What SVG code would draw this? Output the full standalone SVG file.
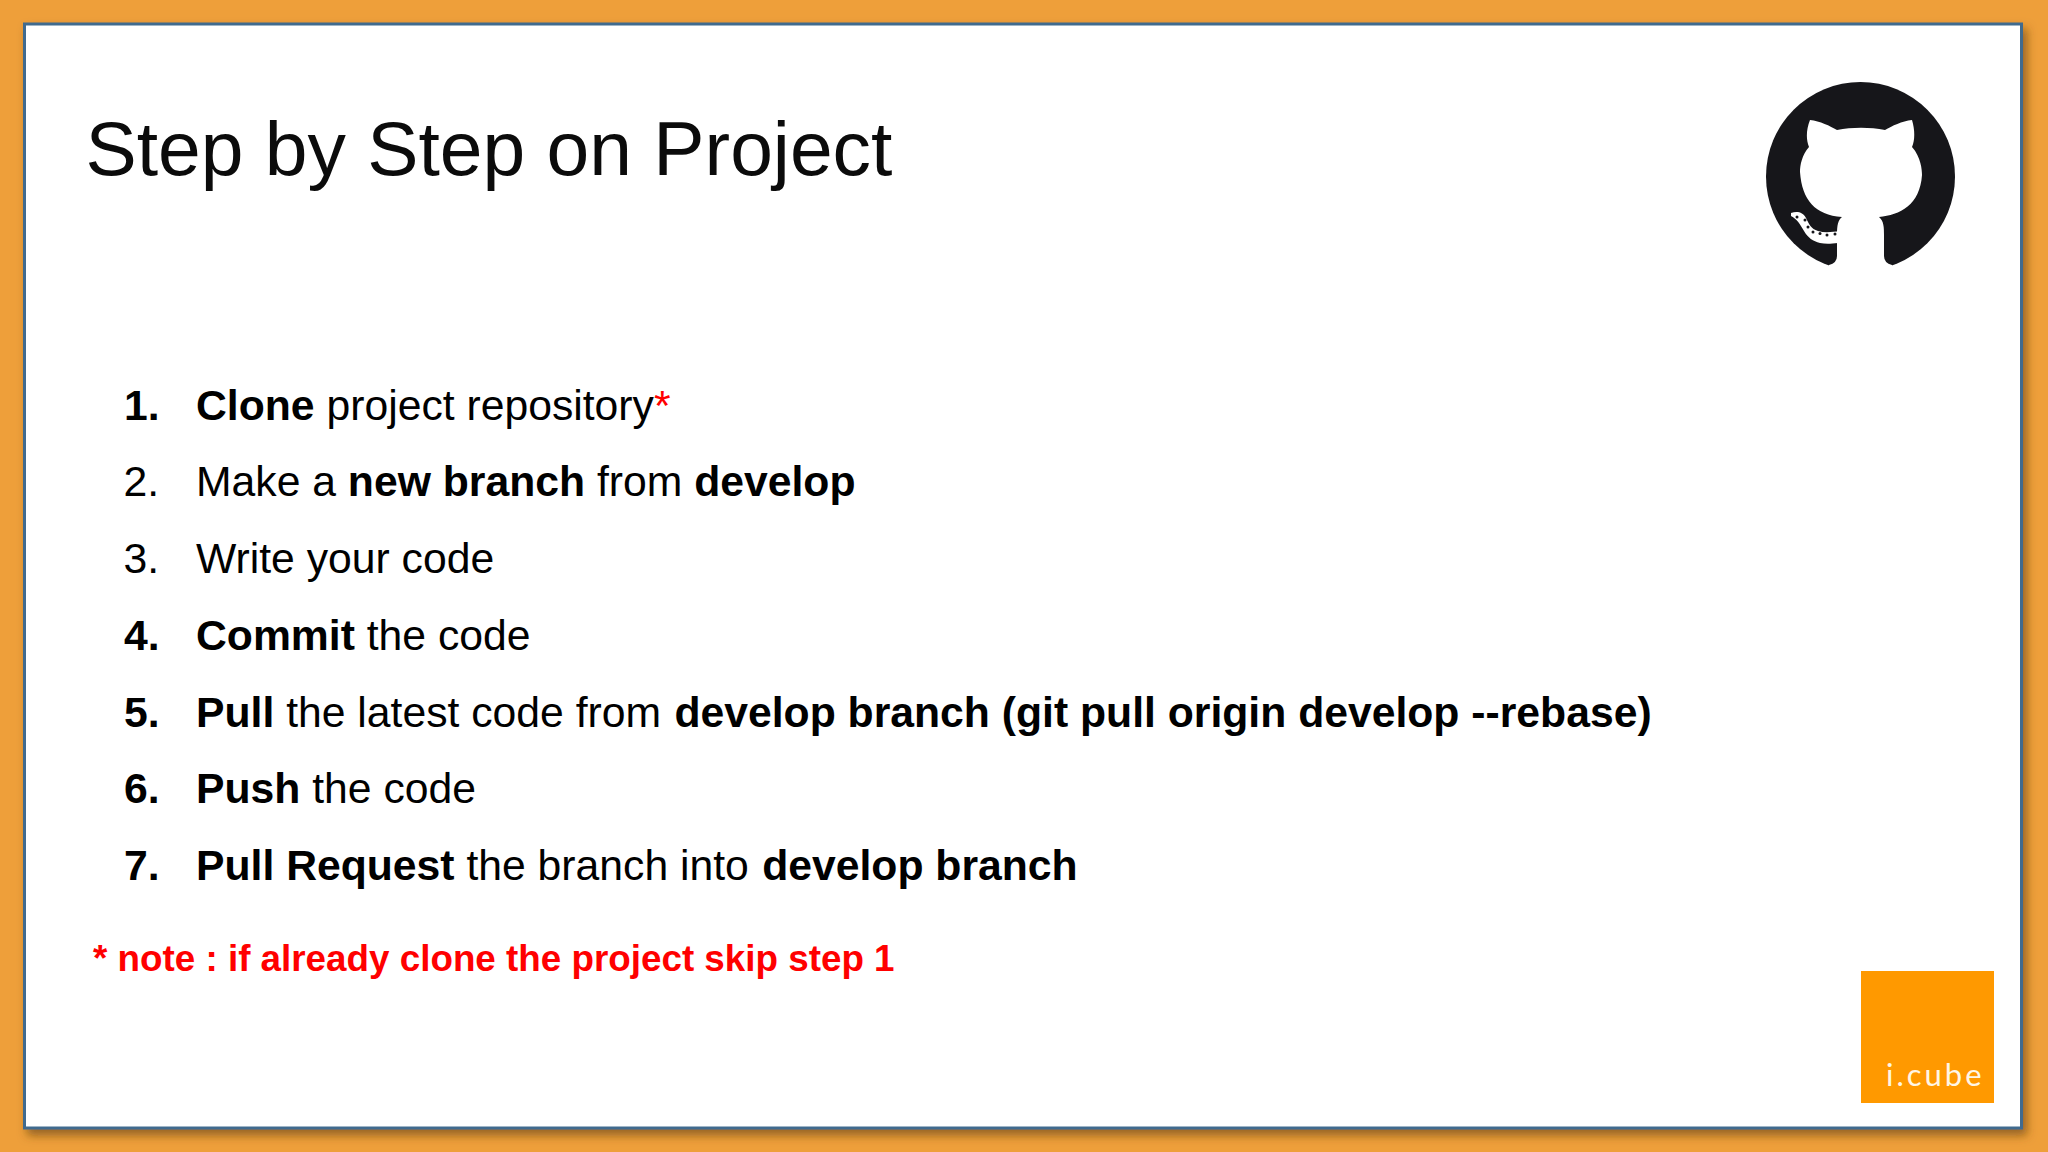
<svg xmlns="http://www.w3.org/2000/svg" width="2048" height="1152" viewBox="0 0 2048 1152">
<style>
text{font-family:"Liberation Sans",Arial,sans-serif;fill:#000}
.l{font-size:42.7px}
.b{font-weight:700}
.r{fill:#ff0000}
</style>
<defs>
<filter id="sh" x="-5%" y="-5%" width="110%" height="110%"><feDropShadow dx="4" dy="6" stdDeviation="5" flood-color="#5a3a10" flood-opacity="0.6"/></filter>
</defs>
<rect width="2048" height="1152" fill="#ee9f3a"/>
<rect x="24.500" y="24" width="1997" height="1104" fill="#fff" stroke="#3f6a8e" stroke-width="3" filter="url(#sh)"/>
<text x="85.500" y="174.500" font-size="76.800" style="fill:#0b0b0b">Step by Step on Project</text>
<g id="list">
<text class="l" x="124" y="420"><tspan class="b">1.</tspan></text><text class="l" x="196" y="420"><tspan class="b">Clone</tspan> project repository<tspan class="r">*</tspan></text>
<text class="l" x="123.500" y="496"><tspan>2.</tspan></text><text class="l" x="196" y="496">Make a <tspan class="b">new branch</tspan> from <tspan class="b">develop</tspan></text>
<text class="l" x="123.500" y="573">3.</text><text class="l" x="196" y="573">Write your code</text>
<text class="l" x="124" y="649.500"><tspan class="b">4.</tspan></text><text class="l" x="196" y="649.500"><tspan class="b">Commit</tspan> the code</text>
<text class="l" x="124" y="727"><tspan class="b">5.</tspan></text><text class="l" x="196" y="727"><tspan class="b">Pull</tspan> the latest code from <tspan class="b" dx="1.500">develop branch (git pull origin develop --rebase)</tspan></text>
<text class="l" x="124" y="803"><tspan class="b">6.</tspan></text><text class="l" x="196" y="803"><tspan class="b">Push</tspan> the code</text>
<text class="l" x="124" y="880"><tspan class="b">7.</tspan></text><text class="l" x="196" y="880"><tspan class="b">Pull Request</tspan> the branch into <tspan class="b" dx="1.500">develop branch</tspan></text>
</g>
<text x="93" y="971" font-size="36.800" class="b r">* note : if already clone the project skip step 1</text>
<g id="github">
<circle cx="1860.500" cy="176.500" r="94.500" fill="#16161a"/>
<path fill="#fff" d="M1810 120 C1820 121 1830 126 1837 130 C1852 127 1870 127 1885 130 C1892 126 1902 121 1912 120 C1915 130 1915 140 1912 147 C1921 157 1922 170 1922 175 C1920 205 1900 215 1879 217 C1884 221 1884 228 1884 235 L1884 256 Q1884 263 1892 265 L1892 274 L1829 274 L1829 265 Q1837 263 1837 256 L1837 235 C1837 225 1838 220 1842 217 C1815 215 1802 200 1800 172 C1800 165 1802 155 1809 147 C1806 140 1806 130 1810 120 Z"/>
<path fill="#fff" d="M1791 213 C1797 211 1803 212 1806 218 C1809 224 1811 229 1818 231 C1825 233 1832 232 1840 231 L1838 243 C1830 244 1825 244 1820 243 C1813 241 1808 238 1804 231 C1800 224 1797 219 1791 216 Z"/>
<g fill="#16161a"><circle cx="1797" cy="217" r="1.500"/><circle cx="1805" cy="220" r="1.500"/><circle cx="1808" cy="227" r="1.500"/><circle cx="1813" cy="232" r="1.500"/><circle cx="1820" cy="233.500" r="1.500"/><circle cx="1827" cy="235" r="1.500"/><circle cx="1835" cy="234" r="1.500"/></g>
</g>
<g id="logo">
<rect x="1861" y="971" width="133" height="132" fill="#ff9900"/>
<text x="1886" y="1086" font-size="31" letter-spacing="3" style="fill:#fff6e6;font-family:Lato,sans-serif">i.cube</text>
</g>
</svg>
